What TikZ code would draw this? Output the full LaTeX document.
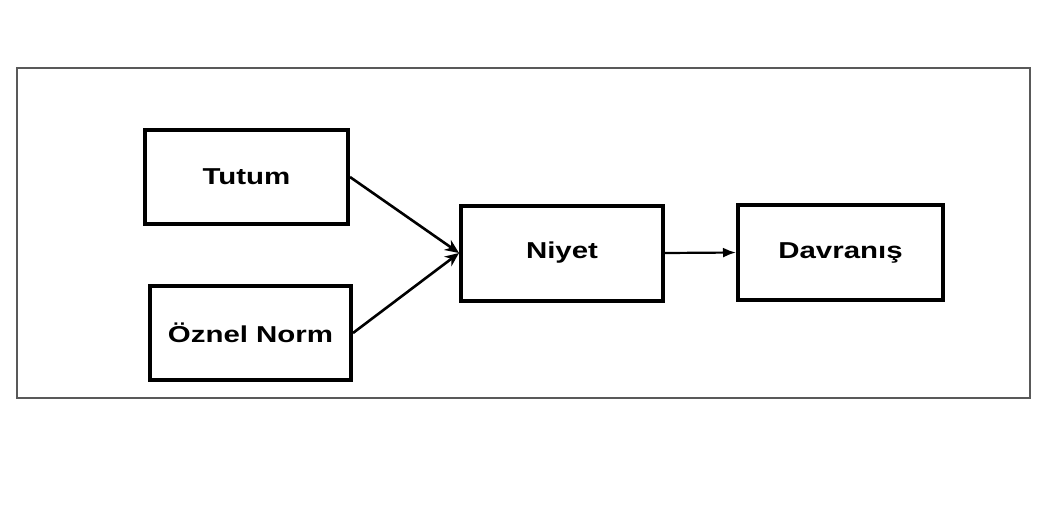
\documentclass[tikz,border=0pt]{standalone}
\usepackage{fontspec}
\setmainfont{Liberation Sans}
\usetikzlibrary{arrows.meta}
\begin{document}
\begin{tikzpicture}[x=1pt,y=-1pt,
  box/.style={draw=black,line width=4pt,rectangle,inner sep=0pt,fill=white,
    font=\fontsize{23}{25}\selectfont\bfseries},
  conn/.style={line width=2.6pt,-{Stealth[length=14pt,width=12pt]}},
  conn2/.style={line width=2.2pt,-{Latex[length=13pt,width=10pt]}}]
\useasboundingbox (0,0) rectangle (1064,509);
\node[draw=black!65,line width=1.5pt,minimum width=1013pt,minimum height=330pt,inner sep=0pt] (frame) at (523.5,233) {};
\node[box,minimum width=203pt,minimum height=94pt] (tutum) at (246.5,177) {\scalebox{1.28}[1]{Tutum}};
\node[box,minimum width=201pt,minimum height=94pt] (oznel) at (250.5,333) {\scalebox{1.28}[1]{Öznel Norm}};
\node[box,minimum width=202pt,minimum height=95pt] (niyet) at (562,253) {\scalebox{1.28}[1]{Niyet}};
\node[box,minimum width=205pt,minimum height=95pt] (davranis) at (840.5,252.5) {\scalebox{1.28}[1]{Davranış}};
\draw[conn] (tutum.east) -- (niyet.west);
\draw[conn] (oznel.east) -- (niyet.west);
\draw[conn2] (niyet.east) -- (davranis.west);
\end{tikzpicture}
\end{document}
